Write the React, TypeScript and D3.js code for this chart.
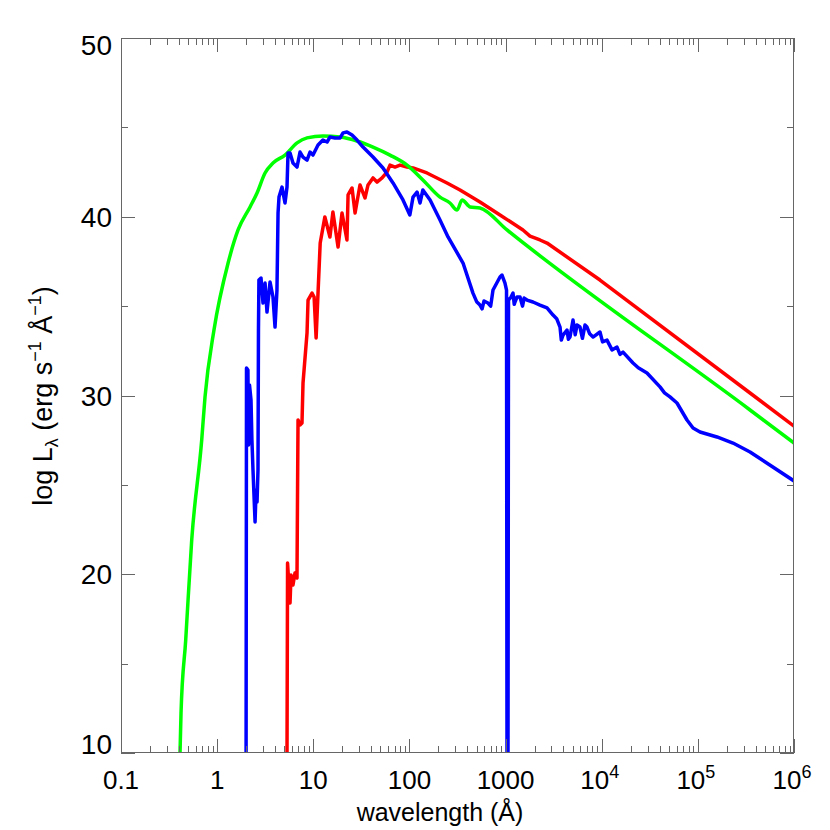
import React from 'react';
import * as d3 from 'd3';

// ---- Data (wavelength in Å, log L_lambda) ----
const greenWave = [0.411, 0.421, 0.471, 0.544, 0.691, 0.748, 0.927, 1.30, 1.65, 2.20, 2.60, 3.15, 3.81, 5.08, 6.78, 8.61, 12.6, 19.0, 28.5, 41.8, 62.8, 94.4, 138, 208, 264, 313, 353, 427, 542, 1035, 349000, 1e6];
const greenLogL = [10, 12.24, 16.32, 21.92, 27.51, 29.92, 33.66, 37.41, 39.26, 40.55, 41.33, 42.45, 43.01, 43.45, 44.13, 44.41, 44.52, 44.46, 44.24, 43.90, 43.45, 42.89, 42.06, 41.10, 40.77, 40.38, 40.94, 40.55, 40.49, 39.26, 29.19, 27.34];

const blueWave = [2.0, 2.02, 2.09, 2.12, 2.17, 2.25, 2.30, 2.36, 2.48, 2.54, 2.60, 2.66, 2.69, 2.72, 2.86, 3.00, 3.15, 3.30, 3.55, 3.81, 4.00, 4.19, 4.30, 4.40, 4.73, 5.08, 5.33, 5.46, 5.73, 6.15, 6.77, 7.28, 7.82, 8.61, 9.25, 9.93, 11.2, 12.6, 13.9, 14.9, 16.8, 19.0, 20.4, 22.4, 25.3, 28.5, 32.9, 41.8, 53.1, 67.5, 85.7, 101, 109, 120, 129, 138, 164, 208, 252, 361, 458, 500, 542, 570, 597, 656, 700, 740, 875, 918, 986, 1023, 1035, 1060, 1073, 1140, 1195, 1230, 1253, 1315, 1413, 1500, 1560, 1671, 1929, 2280, 2698, 3117, 3400, 3684, 3800, 3957, 4355, 4500, 4677, 5029, 5300, 5535, 5945, 6300, 6700, 7030, 7500, 8119, 9594, 10200, 11350, 12800, 14420, 15500, 16660, 21160, 24000, 29580, 40380, 45000, 51300, 60670, 77100, 89100, 105300, 158100, 232000, 349000, 1e6];
const blueLogL = [10, 31.54, 31.43, 27.23, 30.59, 29.75, 27.51, 25.83, 22.92, 24.71, 24.04, 25.83, 33.66, 36.46, 36.57, 35.17, 36.29, 34.67, 36.35, 35.51, 33.83, 35.90, 40.21, 41.10, 41.66, 40.77, 41.66, 43.57, 43.57, 43.01, 42.78, 43.62, 43.34, 43.17, 43.62, 43.45, 44.01, 44.29, 44.18, 44.46, 44.41, 44.41, 44.69, 44.74, 44.57, 44.29, 43.90, 43.34, 42.73, 41.89, 40.94, 40.10, 41.10, 41.38, 40.77, 41.50, 40.94, 39.82, 38.87, 37.41, 35.73, 35.25, 35.06, 34.85, 35.29, 35.17, 35.00, 35.90, 36.63, 36.74, 36.29, 35.90, 10, 10, 35.34, 35.51, 35.73, 35.10, 35.23, 35.51, 35.51, 35.00, 35.45, 35.34, 35.23, 35.06, 34.90, 34.50, 34.30, 33.83, 33.10, 33.38, 33.66, 33.15, 33.27, 34.22, 33.40, 33.94, 33.83, 33.20, 33.94, 33.83, 33.45, 33.27, 33.55, 33.00, 33.10, 32.55, 32.71, 32.30, 32.43, 31.82, 31.55, 31.26, 30.48, 30.15, 29.92, 29.58, 28.63, 28.18, 27.96, 27.68, 27.34, 26.84, 25.22];

const redWave = [5.33, 5.40, 5.73, 5.87, 6.15, 6.45, 6.77, 6.85, 6.94, 7.28, 7.63, 7.82, 8.61, 8.82, 9.70, 10.2, 10.7, 11.2, 11.8, 13.2, 14.9, 16.0, 18.1, 19.9, 22.4, 23.0, 25.3, 27.2, 30.6, 34.5, 37.1, 41.8, 46.0, 51.9, 58.5, 62.8, 70.8, 79.8, 94.4, 109, 152, 246, 336, 542, 875, 1517, 1795, 2280, 2698, 9594, 349000, 1e6];
const redLogL = [10, 20.63, 18.39, 19.96, 19.40, 20.07, 19.79, 24.15, 28.63, 28.35, 28.46, 30.70, 33.50, 35.34, 35.73, 35.51, 33.22, 35.73, 38.53, 39.99, 38.87, 40.27, 38.31, 40.21, 38.70, 41.22, 41.61, 40.21, 41.78, 41.05, 41.78, 42.17, 41.94, 42.17, 42.50, 42.89, 42.78, 42.89, 42.78, 42.73, 42.45, 41.89, 41.50, 40.83, 40.10, 39.26, 38.92, 38.70, 38.53, 36.46, 30.14, 28.29];

const xMajorTicks = [0.1, 1, 10, 100, 1000, 1e4, 1e5, 1e6];
const xTickBase = ['0.1', '1', '10', '100', '1000', '10', '10', '10'];
const xTickExp = ['', '', '', '', '', '4', '5', '6'];
const yMajorTicks = [10, 20, 30, 40, 50];
const yMinorTicks = [15, 25, 35, 45];

const FONT = 'Liberation Sans, Arial, Helvetica, sans-serif';

export default function App() {
  const left = 121, right = 794, top = 38, bottom = 753;
  const x = d3.scaleLog().domain([0.1, 1e6]).range([left, right]);
  const y = d3.scaleLinear().domain([10, 50]).range([bottom, top]);

  const minorX: number[] = [];
  for (let i = 0; i < xMajorTicks.length - 1; i++) {
    for (let k = 2; k <= 9; k++) minorX.push(xMajorTicks[i] * k);
  }

  const line = d3.line<[number, number]>().x(d => x(d[0])).y(d => y(d[1]));
  const smooth = d3.line<[number, number]>().x(d => x(d[0])).y(d => y(d[1])).curve(d3.curveMonotoneX);
  const pts = (w: number[], l: number[]) => w.map((v, i) => [v, l[i]] as [number, number]);

  const axisColor = '#666';
  const majorLen = 14, minorLen = 7;

  return (
    <svg width={830} height={830} style={{ position: 'absolute', left: 0, top: 0, background: '#fff' }}>
      <defs>
        <clipPath id="plot">
          <rect x={left} y={top} width={right - left} height={bottom - top} />
        </clipPath>
      </defs>
      <rect x={0} y={0} width={830} height={830} fill="#fff" />
      <g clipPath="url(#plot)" fill="none" strokeWidth={3.5} strokeLinejoin="round">
        <path d={line(pts(redWave, redLogL)) || ''} stroke="#ff0000" />
        <path d={smooth(pts(greenWave, greenLogL)) || ''} stroke="#00ff00" />
        <path d={line(pts(blueWave, blueLogL)) || ''} stroke="#0000ff" />
      </g>
      {/* frame */}
      <rect x={left + 0.5} y={top + 0.5} width={right - left - 1} height={bottom - top - 1} fill="none" stroke={axisColor} strokeWidth={1} />
      {/* ticks */}
      <g stroke={axisColor} strokeWidth={1}>
        {xMajorTicks.map(t => {
          const px = Math.round(x(t)) + 0.5;
          return (
            <g key={'xm' + t}>
              <line x1={px} x2={px} y1={bottom} y2={bottom - majorLen} />
              <line x1={px} x2={px} y1={top} y2={top + majorLen} />
            </g>
          );
        })}
        {minorX.map(t => {
          const px = Math.round(x(t)) + 0.5;
          return (
            <g key={'xn' + t}>
              <line x1={px} x2={px} y1={bottom} y2={bottom - minorLen} />
              <line x1={px} x2={px} y1={top} y2={top + minorLen} />
            </g>
          );
        })}
        {yMajorTicks.map(t => {
          const py = Math.round(y(t)) + 0.5;
          return (
            <g key={'ym' + t}>
              <line x1={left} x2={left + majorLen} y1={py} y2={py} />
              <line x1={right} x2={right - majorLen} y1={py} y2={py} />
            </g>
          );
        })}
        {yMinorTicks.map(t => {
          const py = Math.round(y(t)) + 0.5;
          return (
            <g key={'yn' + t}>
              <line x1={left} x2={left + minorLen} y1={py} y2={py} />
              <line x1={right} x2={right - minorLen} y1={py} y2={py} />
            </g>
          );
        })}
      </g>
      {/* x tick labels */}
      <g fontFamily={FONT} fontSize={26} fill="#000" textAnchor="middle">
        {xMajorTicks.map((t, i) => (
          <text key={'xl' + t} x={x(t) + (xTickExp[i] ? -2 : 0)} y={789}>
            {xTickBase[i]}
            {xTickExp[i] ? <tspan fontSize={18} dy={-11}>{xTickExp[i]}</tspan> : null}
          </text>
        ))}
      </g>
      {/* y tick labels */}
      <g fontFamily={FONT} fontSize={28} fill="#000" textAnchor="end">
        {yMajorTicks.map(t => {
          const cy = Math.min(Math.max(y(t), top + 7), bottom - 9);
          return (
            <text key={'yl' + t} x={112} y={cy + 10}>{t}</text>
          );
        })}
      </g>
      {/* axis titles */}
      <text x={440} y={821} fontFamily={FONT} fontSize={25} textAnchor="middle" fill="#000">
        wavelength (Å)
      </text>
      <text transform="translate(52,396) rotate(-90)" fontFamily={FONT} fontSize={27} textAnchor="middle" fill="#000">
        log L<tspan fontSize={18} dy={6}>λ</tspan><tspan dy={-6}> (erg s</tspan><tspan fontSize={18} dy={-11}>−1</tspan><tspan dy={11}> Å</tspan><tspan fontSize={18} dy={-11}>−1</tspan><tspan dy={11}>)</tspan>
      </text>
    </svg>
  );
}
